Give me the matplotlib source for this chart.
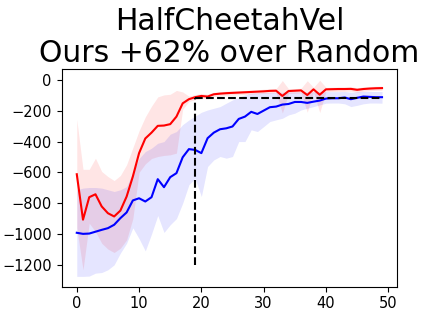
import matplotlib
matplotlib.use("Agg")
import matplotlib.pyplot as plt
import numpy as np

iterations = list(range(50))

ours_mean = [-612, -907, -761, -742, -821, -865, -886, -848, -757, -627,
             -475, -380, -342, -298, -296, -287, -238, -152, -125, -112,
             -104, -108, -93, -89, -86, -84, -82, -80, -78, -76,
             -74, -71, -70, -104, -72, -70, -68, -98, -61, -96,
             -61, -60, -59, -59, -58, -64, -59, -56, -54, -53]
ours_upper = [-255, -580, -580, -508, -594, -627, -653, -620, -550, -440,
              -330, -240, -170, -110, -97, -93, -68, -78, -105, -95,
              -88, -92, -80, -76, -73, -71, -70, -68, -66, -64,
              -60, -58, -56, -4, -58, -56, -54, -5, -48, -2,
              -48, -47, -46, -46, -45, -50, -46, -43, -41, -40]
ours_lower = [-960, -1232, -930, -984, -1060, -1098, -1120, -1092, -1038, -900,
              -600, -545, -510, -497, -490, -486, -475, -190, -140, -128,
              -120, -124, -108, -104, -100, -98, -96, -94, -92, -90,
              -88, -86, -84, -215, -88, -86, -84, -210, -76, -212,
              -76, -75, -74, -74, -72, -80, -74, -70, -68, -67]

random_mean = [-992, -999, -997, -985, -973, -962, -940, -897, -860, -782,
               -768, -789, -761, -644, -696, -631, -605, -502, -449, -454,
               -475, -378, -342, -320, -314, -302, -253, -238, -207, -221,
               -199, -177, -173, -160, -156, -143, -143, -149, -141, -134,
               -121, -119, -119, -114, -125, -116, -108, -110, -112, -112]
random_upper = [-713, -702, -698, -698, -702, -713, -724, -713, -692, -600,
                -510, -465, -443, -411, -400, -352, -335, -290, -260, -235,
                -210, -195, -184, -173, -151, -130, -112, -97, -86, -84,
                -82, -82, -80, -80, -78, -78, -78, -78, -77, -77,
                -76, -76, -76, -75, -80, -76, -75, -75, -75, -75]
random_lower = [-1275, -1275, -1273, -1254, -1250, -1232, -1200, -1124, -1060, -960,
                -1030, -1110, -1000, -880, -990, -940, -900, -800, -680, -640,
                -757, -562, -519, -497, -508, -497, -400, -400, -324, -335,
                -303, -270, -259, -249, -227, -216, -195, -184, -173, -162,
                -151, -150, -150, -155, -173, -165, -155, -150, -150, -151]

match_iter = 19
match_level = -115
match_bottom = -1200
title_text = "HalfCheetahVel\nOurs +62% over Random"

fig = plt.figure(figsize=(4.26, 3.15), dpi=100)
ax = fig.add_axes([0.1444, 0.0898, 0.7882, 0.6902])

ax.fill_between(iterations, ours_lower, ours_upper, color="red", alpha=0.1, linewidth=0)
ax.fill_between(iterations, random_lower, random_upper, color="blue", alpha=0.1, linewidth=0)
ax.plot(iterations, ours_mean, color="red", linewidth=1.5)
ax.plot(iterations, random_mean, color="blue", linewidth=1.5)
ax.plot([match_iter, match_iter], [match_bottom, match_level], color="black",
        linestyle="--", linewidth=1.5)
ax.plot([match_iter, iterations[-1]], [match_level, match_level], color="black",
        linestyle="--", linewidth=1.5)

ax.set_xlim(-2.45, 51.45)
ax.set_ylim(-1342, 69)
ax.set_xticks([0, 10, 20, 30, 40, 50])
ax.set_yticks([0, -200, -400, -600, -800, -1000, -1200])
ax.tick_params(labelsize=10.5)
ax.set_title(title_text, fontsize=21.5, linespacing=1.15, pad=5)

fig.savefig("out.png", dpi=100)
